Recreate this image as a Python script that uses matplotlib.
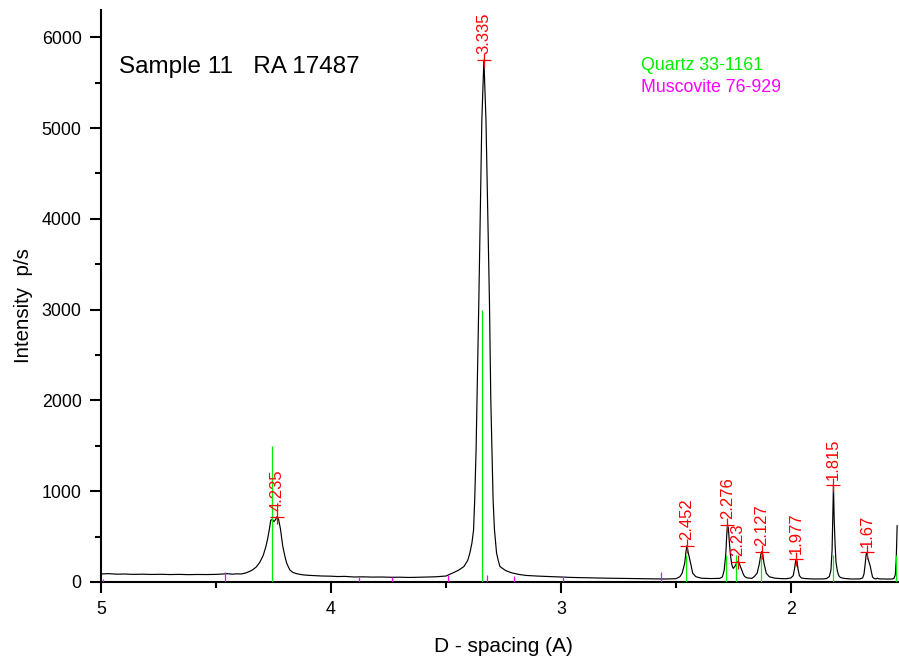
import numpy as np
import matplotlib.pyplot as plt
from matplotlib.ticker import MultipleLocator

plt.rcParams['font.family'] = ['Liberation Sans', 'DejaVu Sans']

# measured XRD trace: d-spacing (A) and intensity (p/s)
trace_d = [
    5.00, 4.97, 4.93, 4.90, 4.86, 4.82, 4.78, 4.74, 4.70, 4.66, 4.62, 4.58,
    4.54, 4.50, 4.47, 4.45, 4.43, 4.41, 4.39, 4.37, 4.355, 4.34, 4.325, 4.31,
    4.295, 4.283, 4.275, 4.268, 4.262, 4.255, 4.248, 4.240, 4.235, 4.228,
    4.220, 4.210, 4.200, 4.193, 4.185, 4.178, 4.165, 4.15, 4.135, 4.12, 4.10,
    4.07, 4.04, 4.00, 3.97, 3.94, 3.90, 3.86, 3.82, 3.78, 3.74, 3.70, 3.66,
    3.62, 3.58, 3.54, 3.50, 3.47, 3.445, 3.422, 3.405, 3.396, 3.387, 3.38,
    3.375, 3.369, 3.365, 3.357, 3.344, 3.335, 3.326, 3.311, 3.305, 3.300,
    3.295, 3.289, 3.284, 3.280, 3.272, 3.265, 3.24, 3.213, 3.18, 3.15, 3.10,
    3.05, 3.00, 2.95, 2.90, 2.85, 2.80, 2.75, 2.70, 2.65, 2.60, 2.55, 2.50,
    2.483, 2.473, 2.462, 2.456, 2.452, 2.447, 2.436, 2.427, 2.413, 2.39, 2.35,
    2.31, 2.298, 2.290, 2.283, 2.279, 2.276, 2.272, 2.268, 2.263, 2.257,
    2.251, 2.244, 2.236, 2.230, 2.224, 2.214, 2.206, 2.200, 2.19, 2.17, 2.160,
    2.147, 2.137, 2.131, 2.127, 2.122, 2.117, 2.107, 2.094, 2.07, 2.04, 2.02,
    2.000, 1.990, 1.984, 1.980, 1.977, 1.973, 1.969, 1.963, 1.955, 1.94, 1.90,
    1.86, 1.845, 1.833, 1.826, 1.821, 1.818, 1.815, 1.812, 1.808, 1.804,
    1.798, 1.792, 1.785, 1.77, 1.74, 1.70, 1.688, 1.682, 1.677, 1.673, 1.670,
    1.666, 1.660, 1.655, 1.650, 1.645, 1.638, 1.63, 1.625, 1.620, 1.61, 1.60,
    1.58, 1.56, 1.552, 1.546, 1.542, 1.538,
]
trace_i = [
    88, 92, 86, 88, 84, 86, 83, 85, 82, 84, 81, 83,
    82, 84, 88, 92, 86, 90, 88, 100, 115, 135, 165, 215,
    290, 390, 480, 580, 680, 690, 665, 690, 720, 690,
    590, 400, 280, 210, 165, 130, 105, 92, 84, 78, 74,
    70, 66, 64, 60, 62, 55, 57, 54, 55, 52, 53, 50,
    52, 55, 58, 66, 100, 130, 170, 240, 320, 430, 573,
    903, 1454, 2004, 3106, 5088, 5750, 5088, 3106, 2004, 1454,
    903, 573, 430, 320, 230, 170, 125, 100, 82, 72, 65,
    60, 56, 50, 47, 45, 42, 40, 38, 36, 34, 33, 36,
    58, 96, 205, 340, 400, 330, 205, 96, 58, 42, 38,
    40, 55, 132, 316, 520, 630, 590, 450, 300, 190,
    150, 170, 210, 225, 200, 132, 80, 58, 45, 40, 58,
    96, 205, 300, 335, 300, 205, 96, 58, 42, 37, 36,
    45, 70, 150, 225, 250, 225, 140, 70, 45, 38, 33,
    34, 38, 60, 130, 350, 700, 1065, 700, 420, 220,
    120, 70, 50, 40, 33, 34, 45, 90, 200, 300, 325,
    270, 215, 175, 110, 55, 38, 34, 42, 36, 33, 34,
    32, 33, 40, 80, 250, 620,
]

# labelled peaks (d-spacing, intensity at the marker)
peak_d = [4.235, 3.335, 2.452, 2.276, 2.23, 2.127, 1.977, 1.815, 1.67]
peak_i = [720, 5750, 400, 630, 225, 335, 250, 1065, 325]
peak_text = ['4.235', '3.335', '2.452', '2.276', '2.23', '2.127', '1.977', '1.815', '1.67']

# reference patterns
quartz_d = [4.257, 3.342, 2.457, 2.282, 2.237, 2.128, 1.8179, 1.5418]
quartz_h = [1500, 3000, 300, 300, 300, 300, 300, 300]
musc_d = [4.99, 4.459, 3.879, 3.733, 3.493, 3.323, 3.202, 2.993, 2.566]
musc_h = [30, 110, 60, 60, 80, 80, 70, 70, 110]

GREEN = '#00ee00'
MAGENTA = '#ff00ff'

fig = plt.figure(figsize=(8.99, 6.62), dpi=100)
ax = fig.add_axes([101 / 899, 80 / 662, 798 / 899, 572 / 662])

ax.plot(trace_d, trace_i, color='black', lw=0.85, zorder=2)
ax.vlines(quartz_d, 0, quartz_h, color=GREEN, lw=0.9, zorder=3)
ax.vlines(musc_d, 0, musc_h, color=MAGENTA, lw=0.9, zorder=3)

ax.plot(peak_d, peak_i, ls='none', marker='+', ms=10, mew=0.9, color='red', zorder=4)
for d, i, t in zip(peak_d, peak_i, peak_text):
    ax.annotate(t, (d, i), xytext=(0, 4), textcoords='offset points',
                rotation=90, ha='center', va='bottom', color='red', fontsize=12)

ax.set_xlim(5, 1.53)
ax.set_ylim(0, 6300)

ax.xaxis.set_major_locator(MultipleLocator(1))
ax.xaxis.set_minor_locator(MultipleLocator(0.5))
ax.yaxis.set_major_locator(MultipleLocator(1000))
ax.yaxis.set_minor_locator(MultipleLocator(500))
ax.xaxis.set_major_formatter(lambda v, p: f'{v:g}')

for side in ('top', 'right'):
    ax.spines[side].set_visible(False)
for side in ('left', 'bottom'):
    ax.spines[side].set_linewidth(1.5)

ax.tick_params(which='major', direction='out', length=8, width=1.5, labelsize=12.8, pad=6)
ax.tick_params(which='minor', direction='out', length=4.5, width=1.5)

ax.set_xlabel('D - spacing (A)', fontsize=15, va='baseline')
ax.xaxis.set_label_coords(0.504, -70 / 572)
ax.set_ylabel('Intensity  p/s', fontsize=14.8)
ax.yaxis.set_label_coords(-68 / 798, 0.4825)

fig.text(119 / 899, 1 - 73 / 662, 'Sample 11   RA 17487', fontsize=17.5, va='baseline')
fig.text(641 / 899, 1 - 70 / 662, 'Quartz 33-1161', fontsize=12.8, color=GREEN, va='baseline')
fig.text(641 / 899, 1 - 92 / 662, 'Muscovite 76-929', fontsize=12.8, color=MAGENTA, va='baseline')

fig.savefig('out.png', dpi=100)
